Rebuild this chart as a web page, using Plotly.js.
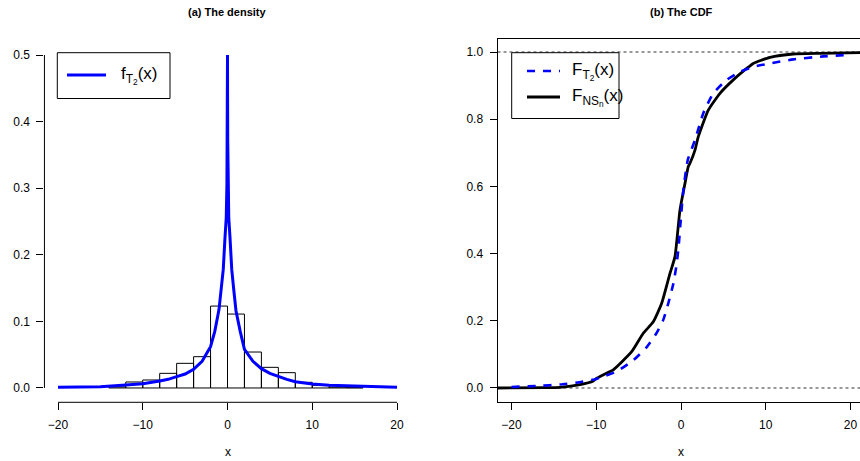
<!DOCTYPE html>
<html>
<head>
<meta charset="utf-8">
<script src="https://cdn.plot.ly/plotly-3.0.1.min.js"></script>
<style>html,body{margin:0;padding:0;background:#fff;}#plot{width:860px;height:461px;}</style>
</head>
<body>
<div id="plot"></div>
<script>
// ---------- data ----------
// (a) histogram of the sample (bin centres, width 2) and density values
const histCenters = [-13, -11, -9, -7, -5, -3, -1, 1, 3, 5, 7, 9, 11, 13, 15];
const histDensity = [0.0015, 0.009, 0.012, 0.022, 0.037, 0.047, 0.123, 0.111, 0.054, 0.031, 0.023, 0.0085, 0.004, 0.0012, 0.0005];

// density f_T2(x)
const densX = [-20, -15, -12, -10, -8, -7, -6, -5, -4, -3, -2, -1.5, -1, -0.75, -0.5, -0.3, -0.15, -0.07, -0.03, -0.01, 0,
               0.01, 0.03, 0.07, 0.15, 0.3, 0.5, 0.75, 1, 1.5, 2, 3, 4, 5, 6, 7, 8, 10, 12, 15, 20];
const densY = [0.001, 0.002, 0.0045, 0.0065, 0.0105, 0.013, 0.017, 0.021, 0.028, 0.04, 0.062, 0.085, 0.118, 0.146, 0.178, 0.225, 0.255, 0.305, 0.37, 0.44, 0.5,
               0.44, 0.37, 0.305, 0.255, 0.225, 0.178, 0.146, 0.116, 0.085, 0.058, 0.04, 0.029, 0.022, 0.017, 0.013, 0.0095, 0.006, 0.004, 0.0025, 0.001];

// (b) CDF F_T2(x)
const cdfX = [-20, -17, -14, -12, -10, -9.5, -7.6, -5.6, -4, -2.9, -2.1, -1.5, -0.9, -0.5, -0.25, 0, 0.28, 0.8, 1.65, 2.63, 3.81, 5.39, 6.96, 8.53, 10.5, 13.25, 16.4, 20];
const cdfY = [0.003, 0.006, 0.011, 0.017, 0.027, 0.031, 0.049, 0.083, 0.123, 0.163, 0.202, 0.252, 0.311, 0.371, 0.43, 0.51, 0.589, 0.679, 0.738, 0.818, 0.877, 0.917, 0.941, 0.956, 0.966, 0.978, 0.986, 0.992];

// empirical CDF F_NSn(x)
const ecdfX = [-21.75, -16, -14.3, -11.9, -10.35, -9.95, -9.56, -8.38, -7.99, -5.82, -4.45, -3.27, -2.28, -1.3, -0.71, -0.12, 0.47, 0.86, 1.06, 1.65, 2.04, 3.22, 4.6, 6.17, 7.75, 8.53, 10.5, 13.25, 16.4, 21.5];
const ecdfY = [0, 0.001, 0.002, 0.01, 0.021, 0.029, 0.034, 0.049, 0.054, 0.108, 0.163, 0.197, 0.252, 0.341, 0.391, 0.53, 0.609, 0.659, 0.669, 0.708, 0.748, 0.827, 0.877, 0.917, 0.951, 0.966, 0.984, 0.994, 0.996, 0.998];

const xTicks = [-20, -10, 0, 10, 20];
const yTicksA = [0, 0.1, 0.2, 0.3, 0.4, 0.5];
const yTicksB = [0, 0.2, 0.4, 0.6, 0.8, 1.0];

// ---------- layout helpers (pixel -> paper) ----------
const W = 860, H = 461;
const PX = p => p / W;
const PY = p => 1 - p / H;

const tickFont = {family: 'Liberation Sans, Arial, sans-serif', size: 12, color: '#000'};
const titleFont = {family: 'Liberation Sans Narrow, Liberation Sans, Arial, sans-serif', size: 11, color: '#000', weight: 'bold'};
const legFont = {family: 'Liberation Sans, Arial, sans-serif', size: 17, color: '#000'};

const traces = [
  {type: 'bar', x: histCenters, y: histDensity, width: 2, xaxis: 'x', yaxis: 'y',
   marker: {color: 'rgba(0,0,0,0)', line: {color: '#000', width: 1}}, hoverinfo: 'skip', showlegend: false},
  {type: 'scatter', mode: 'lines', x: densX, y: densY, xaxis: 'x', yaxis: 'y',
   line: {color: '#0000ff', width: 3}, showlegend: false},
  {type: 'scatter', mode: 'lines', x: ecdfX, y: ecdfY, xaxis: 'x2', yaxis: 'y2',
   line: {color: '#000', width: 2.8, shape: 'spline', smoothing: 0.5}, showlegend: false},
  {type: 'scatter', mode: 'lines', x: cdfX, y: cdfY, xaxis: 'x2', yaxis: 'y2',
   line: {color: '#0000ff', width: 2.6, dash: '8px,8px', shape: 'spline', smoothing: 0.5}, showlegend: false}
];

const axBase = {showgrid: false, zeroline: false, ticks: 'outside', ticklen: 7, tickwidth: 1, tickcolor: '#000',
                tickfont: tickFont, ticklabelstandoff: 4};

const layout = {
  width: W, height: H,
  margin: {l: 0, r: 0, t: 0, b: 0},
  paper_bgcolor: '#fff', plot_bgcolor: 'rgba(0,0,0,0)',
  showlegend: false,
  bargap: 0,
  xaxis: Object.assign({}, axBase, {domain: [PX(44.44), PX(410.56)], range: [-21.6, 21.6],
          tickvals: xTicks, showline: false, anchor: 'y'}),
  yaxis: Object.assign({}, axBase, {domain: [PY(402.3), PY(41.7)], range: [-0.0215, 0.52],
          tickvals: yTicksA, tickformat: '.1f', showline: false, anchor: 'x'}),
  xaxis2: Object.assign({}, axBase, {domain: [PX(497.5), 1], range: [-21.65, 21.12],
          tickvals: xTicks, showline: true, linecolor: '#000', linewidth: 1, mirror: true, anchor: 'y2'}),
  yaxis2: Object.assign({}, axBase, {domain: [PY(402.3), PY(39.3)], range: [-0.0426, 1.0378],
          tickvals: yTicksB, tickformat: '.1f', showline: true, linecolor: '#000', linewidth: 1, anchor: 'x2'}),
  shapes: [
    // R-style axis lines for panel (a)
    {type: 'line', xref: 'x', yref: 'paper', x0: -20, x1: 20, y0: PY(402.3), y1: PY(402.3), line: {color: '#000', width: 1}},
    {type: 'line', xref: 'paper', yref: 'y', x0: PX(44.44), x1: PX(44.44), y0: 0, y1: 0.5, line: {color: '#000', width: 1}},
    // reference lines at 0 and 1 in panel (b)
    {type: 'line', xref: 'x2', yref: 'y2', x0: -21.65, x1: 21.12, y0: 0, y1: 0, layer: 'below', line: {color: '#333', width: 1, dash: 'dot'}},
    {type: 'line', xref: 'x2', yref: 'y2', x0: -21.65, x1: 21.12, y0: 1, y1: 1, layer: 'below', line: {color: '#333', width: 1, dash: 'dot'}},
    // legend (a)
    {type: 'rect', xref: 'paper', yref: 'paper', x0: PX(57.3), x1: PX(170), y0: PY(98.5), y1: PY(52.7),
     fillcolor: '#fff', line: {color: '#000', width: 1}},
    {type: 'line', xref: 'paper', yref: 'paper', x0: PX(67), x1: PX(106), y0: PY(75), y1: PY(75), line: {color: '#0000ff', width: 3}},
    // legend (b)
    {type: 'rect', xref: 'paper', yref: 'paper', x0: PX(511.7), x1: PX(619), y0: PY(118.5), y1: PY(52.7),
     fillcolor: '#fff', line: {color: '#000', width: 1}},
    {type: 'line', xref: 'paper', yref: 'paper', x0: PX(527), x1: PX(560), y0: PY(71), y1: PY(71), line: {color: '#0000ff', width: 2.6, dash: '8px,8px'}},
    {type: 'line', xref: 'paper', yref: 'paper', x0: PX(527), x1: PX(560), y0: PY(97), y1: PY(97), line: {color: '#000', width: 2.8}}
  ],
  annotations: [
    {xref: 'paper', yref: 'paper', x: PX(227.5), y: PY(12), text: '(a) The density', showarrow: false, font: titleFont, xanchor: 'center', yanchor: 'middle'},
    {xref: 'paper', yref: 'paper', x: PX(681), y: PY(12), text: '(b) The CDF', showarrow: false, font: titleFont, xanchor: 'center', yanchor: 'middle'},
    {xref: 'paper', yref: 'paper', x: PX(227.5), y: PY(452), text: 'x', showarrow: false, font: tickFont, xanchor: 'center', yanchor: 'middle'},
    {xref: 'paper', yref: 'paper', x: PX(681), y: PY(452), text: 'x', showarrow: false, font: tickFont, xanchor: 'center', yanchor: 'middle'},
    {xref: 'paper', yref: 'paper', x: PX(119), y: PY(75), text: 'f<sub>T<sub>2</sub></sub>(x)', showarrow: false, font: legFont, xanchor: 'left', yanchor: 'middle'},
    {xref: 'paper', yref: 'paper', x: PX(570), y: PY(71), text: 'F<sub>T<sub>2</sub></sub>(x)', showarrow: false, font: legFont, xanchor: 'left', yanchor: 'middle'},
    {xref: 'paper', yref: 'paper', x: PX(570), y: PY(97), text: 'F<sub>NS<sub>n</sub></sub>(x)', showarrow: false, font: legFont, xanchor: 'left', yanchor: 'middle'}
  ]
};

Plotly.newPlot('plot', traces, layout, {staticPlot: true, displayModeBar: false});
</script>
</body>
</html>
